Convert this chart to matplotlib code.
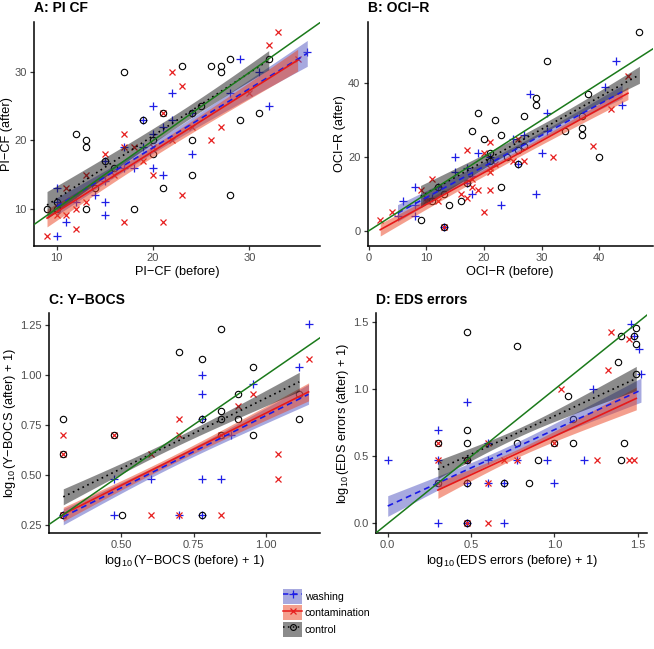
import numpy as np
import matplotlib
matplotlib.use("Agg")
import matplotlib.pyplot as plt
from matplotlib.patches import Patch
from matplotlib.lines import Line2D

plt.rcParams['font.family'] = ['Liberation Sans', 'DejaVu Sans']
plt.rcParams['mathtext.fontset'] = 'custom'
plt.rcParams['mathtext.rm'] = 'Liberation Sans'
plt.rcParams['mathtext.it'] = 'Liberation Sans:italic'
plt.rcParams['mathtext.bf'] = 'Liberation Sans:bold'

# ---------------- data: scatter points ----------------
# Panel A: PI CF
A_wash_x = [10, 10, 10, 11, 12, 14, 15, 15, 15, 15, 17, 17, 18, 19, 19, 20, 20, 20, 21, 21, 22, 22, 24, 24, 28, 29, 31, 32, 36]
A_wash_y = [13, 11, 6, 8, 11, 12, 17, 14, 11, 9, 19, 16, 16, 23, 19, 25, 21, 16, 22, 15, 27, 23, 24, 18, 27, 32, 30, 25, 33]
A_cont_x = [9, 10, 11, 11, 12, 12, 13, 13, 15, 16, 17, 17, 17, 18, 19, 20, 20, 21, 21, 22, 22, 23, 23, 24, 26, 27, 30, 32, 33, 35]
A_cont_y = [6, 9, 13, 9, 10, 7, 15, 11, 18, 15, 21, 19, 8, 19, 17, 15, 19, 24, 8, 30, 20, 28, 12, 22, 20, 22, 27, 34, 36, 32]
A_ctrl_x = [9, 10, 10, 12, 13, 13, 13, 14, 15, 16, 17, 18, 19, 20, 20, 21, 21, 23, 24, 24, 24, 25, 26, 27, 27, 28, 28, 29, 31, 32]
A_ctrl_y = [10, 10, 11, 21, 20, 19, 10, 13, 17, 16, 30, 10, 23, 20, 18, 13, 24, 31, 20, 15, 24, 25, 31, 31, 30, 32, 12, 23, 24, 32]

# Panel B: OCI-R
B_wash_x = [5, 6, 8, 8, 8, 11, 12, 13, 15, 15, 17, 17, 18, 18, 19, 21, 23, 25, 26, 27, 28, 29, 30, 31, 31, 41, 43, 44]
B_wash_y = [4, 8, 12, 7, 4, 9, 12, 1, 20, 16, 17, 13, 10, 15, 21, 20, 7, 25, 18, 26, 37, 10, 21, 32, 27, 39, 46, 34]
B_cont_x = [2, 4, 9, 10, 10, 11, 12, 13, 16, 17, 17, 18, 18, 19, 20, 20, 21, 21, 21, 21, 22, 25, 26, 27, 32, 39, 42, 45]
B_cont_y = [3, 5, 11, 8, 9, 14, 8, 1, 10, 22, 9, 12, 14, 11, 21, 5, 24, 16, 17, 11, 18, 19, 25, 19, 20, 23, 33, 42]
B_ctrl_x = [9, 11, 12, 13, 13, 14, 16, 17, 18, 19, 20, 21, 21, 22, 23, 23, 24, 26, 26, 27, 27, 29, 29, 31, 34, 37, 37, 37, 38, 40, 47]
B_ctrl_y = [3, 8, 12, 10, 1, 7, 8, 13, 27, 32, 25, 21, 19, 30, 26, 12, 20, 22, 18, 31, 23, 36, 34, 46, 27, 31, 28, 26, 37, 20, 54]

# Panel C: Y-BOCS, log10(score + 1)
C_wash_x = [0.301, 0.477, 0.477, 0.602, 0.699, 0.778, 0.778, 0.778, 0.778, 0.778, 0.845, 0.880, 0.954, 1.114, 1.146]
C_wash_y = [0.301, 0.477, 0.301, 0.477, 0.301, 1.000, 0.903, 0.778, 0.477, 0.301, 0.477, 0.699, 0.954, 1.041, 1.255]
C_cont_x = [0.301, 0.301, 0.301, 0.477, 0.602, 0.602, 0.699, 0.699, 0.699, 0.845, 0.845, 0.903, 0.954, 1.041, 1.041, 1.146]
C_cont_y = [0.699, 0.602, 0.301, 0.699, 0.602, 0.301, 0.778, 0.699, 0.301, 0.699, 0.301, 0.845, 0.903, 0.602, 0.477, 1.079]
C_ctrl_x = [0.301, 0.301, 0.301, 0.477, 0.505, 0.699, 0.778, 0.778, 0.778, 0.845, 0.845, 0.845, 0.845, 0.903, 0.903, 0.954, 0.954, 1.114, 1.114]
C_ctrl_y = [0.778, 0.602, 0.301, 0.699, 0.301, 1.114, 1.079, 0.778, 0.301, 1.230, 0.818, 0.778, 0.699, 0.903, 0.778, 1.041, 0.699, 0.903, 0.778]

# Panel D: EDS errors, log10(errors + 1)
D_wash_x = [0.000, 0.301, 0.301, 0.301, 0.477, 0.477, 0.477, 0.477, 0.602, 0.602, 0.602, 0.699, 0.699, 0.778, 0.954, 1.000, 1.176, 1.230, 1.462, 1.477, 1.505, 1.519]
D_wash_y = [0.477, 0.699, 0.477, 0.000, 0.903, 0.477, 0.301, 0.000, 0.602, 0.477, 0.301, 0.301, 0.000, 0.477, 0.477, 0.301, 0.477, 1.000, 1.491, 1.398, 1.301, 1.114]
D_cont_x = [0.301, 0.301, 0.301, 0.477, 0.477, 0.602, 0.602, 0.602, 0.699, 0.778, 1.000, 1.041, 1.255, 1.322, 1.342, 1.447, 1.447, 1.477]
D_cont_y = [0.602, 0.301, 0.477, 0.477, 0.000, 0.000, 0.301, 0.602, 0.477, 0.477, 0.602, 1.000, 0.477, 1.146, 1.431, 1.380, 0.477, 0.477]
D_ctrl_x = [0.301, 0.301, 0.477, 0.477, 0.477, 0.477, 0.477, 0.477, 0.699, 0.778, 0.778, 0.845, 0.903, 1.000, 1.079, 1.114, 1.114, 1.380, 1.398, 1.398, 1.415, 1.477, 1.491, 1.491, 1.491]
D_ctrl_y = [0.301, 0.602, 1.431, 0.699, 0.602, 0.477, 0.301, 0.000, 0.301, 1.322, 0.602, 0.301, 0.477, 0.602, 0.954, 0.778, 0.602, 1.204, 1.398, 0.477, 0.602, 1.398, 1.462, 1.342, 1.114]

# ---------------- data: fitted lm lines ----------------
# order per panel: washing, contamination, control
# start x, end x, fitted y at start, fitted y at end
# 95% band half-width at start, minimum half-width, half-width at end
A_fit_x0 = [10, 9, 9];            A_fit_x1 = [36, 35, 32]
A_fit_y0 = [10.3, 8.6, 10.5];     A_fit_y1 = [32.8, 31.8, 31.8]
A_band_l = [1.3, 1.3, 2.0];       A_band_m = [0.8, 0.8, 1.0];    A_band_r = [1.9, 1.6, 1.4]

B_fit_x0 = [5, 2, 9];             B_fit_x1 = [44, 45, 47]
B_fit_y0 = [4.8, 0.3, 9.3];       B_fit_y1 = [37.7, 37.3, 42.3]
B_band_l = [2.3, 1.7, 3.0];       B_band_m = [1.0, 0.9, 1.3];    B_band_r = [1.8, 1.7, 2.3]

C_fit_x0 = [0.301, 0.301, 0.301]; C_fit_x1 = [1.146, 1.146, 1.114]
C_fit_y0 = [0.290, 0.303, 0.390]; C_fit_y1 = [0.903, 0.915, 0.965]
C_band_l = [0.040, 0.035, 0.040]; C_band_m = [0.022, 0.020, 0.022]; C_band_r = [0.050, 0.045, 0.048]

D_fit_x0 = [0.000, 0.301, 0.301]; D_fit_x1 = [1.519, 1.491, 1.491]
D_fit_y0 = [0.130, 0.249, 0.403]; D_fit_y1 = [0.995, 0.933, 1.082]
D_band_l = [0.077, 0.062, 0.068]; D_band_m = [0.035, 0.030, 0.032]; D_band_r = [0.090, 0.085, 0.090]

groups = ['washing', 'contamination', 'control']

MINUS = '\u2212'
LOG = '$\\log_{10}$'
panels = [
    dict(title='A: PI CF', xlabel='PI' + MINUS + 'CF (before)', ylabel='PI' + MINUS + 'CF (after)',
         data=[(A_wash_x, A_wash_y), (A_cont_x, A_cont_y), (A_ctrl_x, A_ctrl_y)],
         fit=(A_fit_x0, A_fit_x1, A_fit_y0, A_fit_y1, A_band_l, A_band_m, A_band_r),
         xlim=(7.65, 37.3), ylim=(4.5, 37.4), xticks=[10, 20, 30], yticks=[10, 20, 30], fmt='{:.0f}',
         rect=[0.052, 0.621, 0.437, 0.345], ylab_x=-0.072),
    dict(title='B: OCI' + MINUS + 'R', xlabel='OCI' + MINUS + 'R (before)', ylabel='OCI' + MINUS + 'R (after)',
         data=[(B_wash_x, B_wash_y), (B_cont_x, B_cont_y), (B_ctrl_x, B_ctrl_y)],
         fit=(B_fit_x0, B_fit_x1, B_fit_y0, B_fit_y1, B_band_l, B_band_m, B_band_r),
         xlim=(-0.2, 49.3), ylim=(-4.1, 56.6), xticks=[0, 10, 20, 30, 40], yticks=[0, 20, 40], fmt='{:.0f}',
         rect=[0.562, 0.621, 0.436, 0.345], ylab_x=None),
    dict(title='C: Y' + MINUS + 'BOCS',
         xlabel=LOG + '(Y' + MINUS + 'BOCS (before) + 1)',
         ylabel=LOG + '(Y' + MINUS + 'BOCS (after) + 1)',
         data=[(C_wash_x, C_wash_y), (C_cont_x, C_cont_y), (C_ctrl_x, C_ctrl_y)],
         fit=(C_fit_x0, C_fit_x1, C_fit_y0, C_fit_y1, C_band_l, C_band_m, C_band_r),
         xlim=(0.252, 1.187), ylim=(0.21, 1.307), xticks=[0.5, 0.75, 1.0],
         yticks=[0.25, 0.5, 0.75, 1.0, 1.25], fmt='{:.2f}',
         rect=[0.075, 0.179, 0.415, 0.338], ylab_x=None),
    dict(title='D: EDS errors',
         xlabel=LOG + '(EDS errors (before) + 1)',
         ylabel=LOG + '(EDS errors (after) + 1)',
         data=[(D_wash_x, D_wash_y), (D_cont_x, D_cont_y), (D_ctrl_x, D_ctrl_y)],
         fit=(D_fit_x0, D_fit_x1, D_fit_y0, D_fit_y1, D_band_l, D_band_m, D_band_r),
         xlim=(-0.07, 1.558), ylim=(-0.07, 1.567), xticks=[0.0, 0.5, 1.0, 1.5],
         yticks=[0.0, 0.5, 1.0, 1.5], fmt='{:.1f}',
         rect=[0.575, 0.179, 0.415, 0.338], ylab_x=None),
]

pt_color = ['#1f1fe6', '#e61f1f', '#000000']
markers = ['+', 'x', 'o']
msizes = [6.2, 4.8, 4.6]
line_styles = [(0, (3.5, 2.5)), '-', (0, (1, 2.2))]
line_colors = ['#1a1ae6', '#e61a1a', '#000000']
band_colors = ['#5155c1', '#eb411f', '#191919']
band_alpha = 0.5


def band_curve(x0, x1, y0, y1, wl, wm, wr):
    """Straight fitted line with the usual hyperbolic lm confidence band."""
    xs = np.linspace(x0, x1, 80)
    yh = y0 + (y1 - y0) * (xs - x0) / (x1 - x0)
    L = wl**2 - wm**2
    R = wr**2 - wm**2
    r = np.sqrt(L / R)
    c = (x0 + r * x1) / (1 + r)
    B = L / (c - x0)**2
    w = np.sqrt(wm**2 + B * (xs - c)**2)
    return xs, yh, yh - w, yh + w


fig = plt.figure(figsize=(6.54, 6.49), dpi=100)

for p in panels:
    ax = fig.add_axes(p['rect'])
    for i, (x, y) in enumerate(p['data']):
        if markers[i] == 'o':
            ax.plot(x, y, linestyle='none', marker='o', ms=msizes[i], mfc='none',
                    mec=pt_color[i], mew=0.8, zorder=2)
        else:
            ax.plot(x, y, linestyle='none', marker=markers[i], ms=msizes[i],
                    color=pt_color[i], mew=0.9, zorder=2)
    fx0, fx1, fy0, fy1, bl, bm, br = p['fit']
    curves = [band_curve(fx0[i], fx1[i], fy0[i], fy1[i], bl[i], bm[i], br[i]) for i in range(3)]
    for i, (xs, yh, lo, hi) in enumerate(curves):
        ax.fill_between(xs, lo, hi, color=band_colors[i], alpha=band_alpha, lw=0, zorder=3)
    for i, (xs, yh, lo, hi) in enumerate(curves):
        ax.plot(xs, yh, color=line_colors[i], ls=line_styles[i], lw=1.2, zorder=4)
    ax.axline((0, 0), slope=1, color='#1b7a1b', lw=1.1, zorder=5)
    ax.set_xlim(*p['xlim'])
    ax.set_ylim(*p['ylim'])
    ax.set_xticks(p['xticks'])
    ax.set_yticks(p['yticks'])
    ax.set_xticklabels([p['fmt'].format(v) for v in p['xticks']])
    ax.set_yticklabels([p['fmt'].format(v) for v in p['yticks']])
    for s in ['top', 'right']:
        ax.spines[s].set_visible(False)
    for s in ['left', 'bottom']:
        ax.spines[s].set_linewidth(1.1)
        ax.spines[s].set_color('black')
    ax.tick_params(axis='both', length=3.2, width=0.9, colors='#333333',
                   labelsize=8, labelcolor='#4d4d4d', pad=2)
    ax.set_xlabel(p['xlabel'], fontsize=9.2, labelpad=2)
    ax.set_ylabel(p['ylabel'], fontsize=9.2, labelpad=1.5)
    if p['ylab_x'] is not None:
        ax.yaxis.set_label_coords(p['ylab_x'], 0.5)
    ax.set_title(p['title'], loc='left', fontsize=10, fontweight='bold', pad=7, x=0.0)

handles = []
for i in range(3):
    patch = Patch(facecolor=band_colors[i], alpha=band_alpha, edgecolor='none')
    if markers[i] == 'o':
        ln = Line2D([], [], color=line_colors[i], ls=line_styles[i], lw=1.1, marker='o',
                    mfc='none', mec=pt_color[i], ms=4.2, mew=0.8)
    else:
        ln = Line2D([], [], color=line_colors[i], ls=line_styles[i], lw=1.1,
                    marker=markers[i], ms=msizes[i] - 1, mew=0.9, mec=pt_color[i])
    handles.append((patch, ln))

fig.legend(handles, groups, loc='upper left', bbox_to_anchor=(0.433, 0.0925), frameon=False,
           fontsize=7.6, handlelength=1.8, handleheight=1.8, labelspacing=0.14,
           handletextpad=0.25, borderpad=0, borderaxespad=0)

fig.savefig('out.png', dpi=100)
